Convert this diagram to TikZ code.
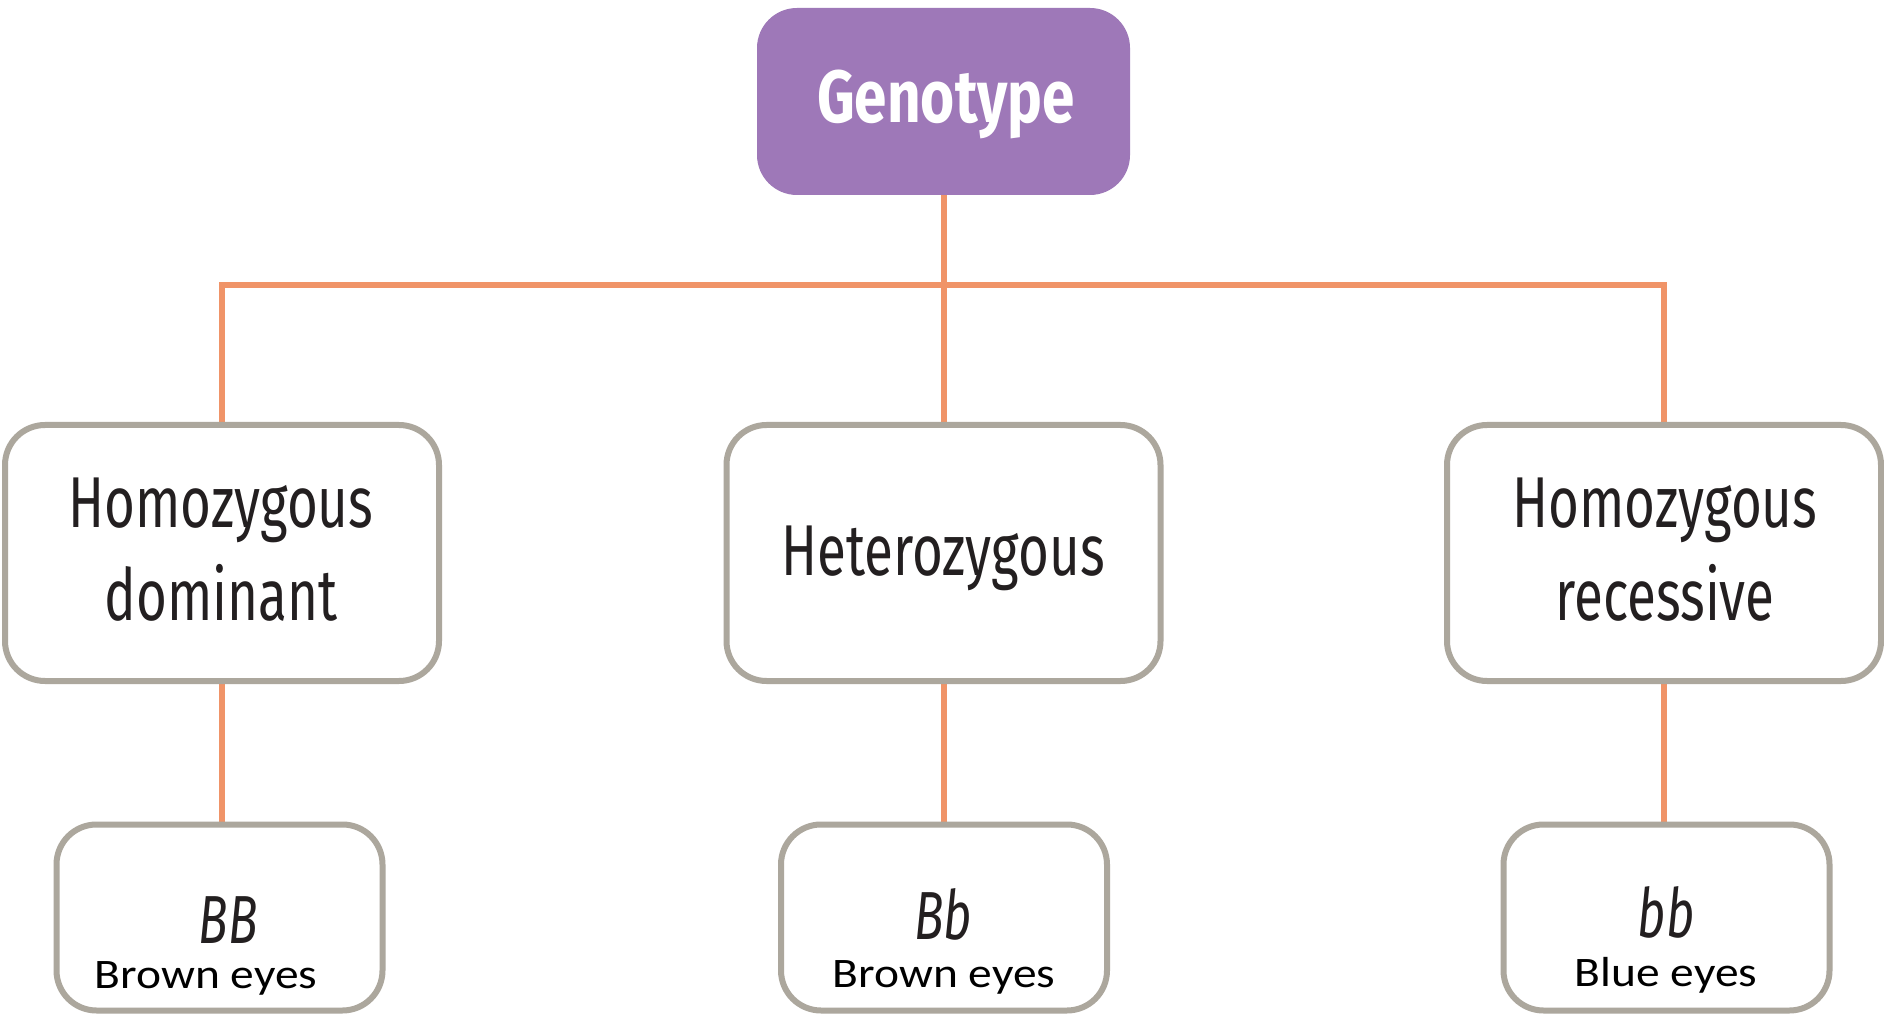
\documentclass[tikz,border=0pt]{standalone}
\usepackage{fontspec}
\newfontfamily\condfont[FakeStretch=0.735]{Fira Sans}
\newfontfamily\condbold[FakeStretch=0.79]{Fira Sans Bold}
\newfontfamily\conditalic[FakeStretch=0.72]{Fira Sans Italic}
\newfontfamily\calib[FakeStretch=1.13]{Carlito}
\usetikzlibrary{backgrounds}
\definecolor{genopurple}{RGB}{158,120,184}
\definecolor{linkorange}{RGB}{240,148,104}
\definecolor{boxgrey}{RGB}{172,167,157}
\definecolor{inktext}{RGB}{35,31,32}
\begin{document}
\begin{tikzpicture}[x=0.5pt,y=-0.5pt,
  genobox/.style={fill=genopurple, rounded corners=20pt, minimum width=186.5pt, minimum height=93.5pt, inner sep=0pt},
  midbox/.style={draw=boxgrey, line width=3pt, fill=white, rounded corners=20pt, minimum width=217pt, minimum height=128pt, inner sep=0pt},
  lowbox/.style={draw=boxgrey, line width=3pt, fill=white, rounded corners=20pt, minimum width=163pt, minimum height=93pt, inner sep=0pt},
  link/.style={draw=linkorange, line width=3pt},
  lbl/.style={anchor=base, inner sep=0pt, text=inktext, font=\condfont\fontsize{36}{40}\selectfont},
  genolbl/.style={anchor=base, inner sep=0pt, text=white, font=\condbold\fontsize{37}{40}\selectfont},
  allele/.style={anchor=base, inner sep=0pt, text=inktext, font=\conditalic\fontsize{34}{38}\selectfont},
  eyes/.style={anchor=base, inner sep=0pt, text=black, font=\calib\fontsize{21}{25}\selectfont}
]
\useasboundingbox (0,0) rectangle (1884,1015);

% boxes
\node[genobox] (geno) at (943.5,101.5) {};
\node[midbox] (hd) at (222,553) {};
\node[midbox] (het) at (943.5,553) {};
\node[midbox] (hr) at (1664,553) {};
\node[lowbox] (bbd) at (219.5,917.5) {};
\node[lowbox] (bbh) at (944,917.5) {};
\node[lowbox] (bbr) at (1666.5,917.5) {};

% texts
\node[genolbl] (genot) at (946,123) {Genotype};
\node[lbl] (hd1) at (221,528) {Homozygous};
\node[lbl] (hd2) at (221,620) {dominant};
\node[lbl] (het1) at (943,575) {Heterozygous};
\node[lbl] (hr1) at (1665,528) {Homozygous};
\node[lbl] (hr2) at (1665,620) {recessive};
\node[allele] (a1) at (228,943) {BB};
\node[allele] (a2) at (943,939) {Bb};
\node[allele] (a3) at (1666,937) {bb};
\node[eyes] (e1) at (206,988) {Brown eyes};
\node[eyes] (e2) at (944,987) {Brown eyes};
\node[eyes] (e3) at (1666,986) {Blue eyes};

\coordinate (bar) at (943.5,285);

\begin{pgfonlayer}{background}
\fill[white] (0,0) rectangle (1884,1015);
\draw[link] (geno.south) -- (het.north);
\draw[link] (hd.north) |- (bar) -| (hr.north);
\draw[link] (hd.south) -- (bbd.north -| hd.south);
\draw[link] (het.south) -- (bbh.north -| het.south);
\draw[link] (hr.south) -- (bbr.north -| hr.south);
\end{pgfonlayer}
\end{tikzpicture}
\end{document}
